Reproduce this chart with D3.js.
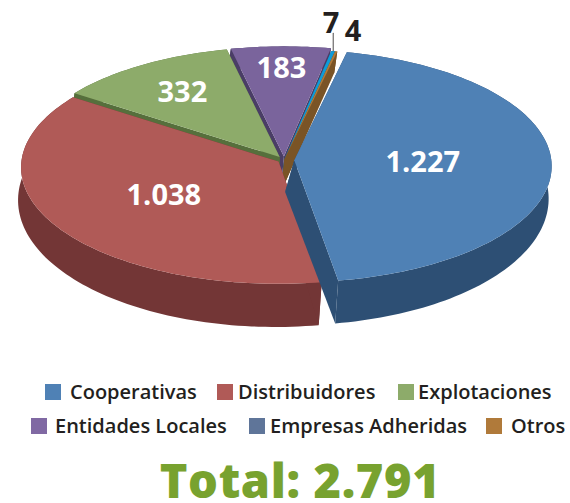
<!DOCTYPE html>
<html>
<head>
<meta charset="utf-8">
<script src="https://cdn.jsdelivr.net/npm/d3@7"></script>
<style>
html,body{margin:0;padding:0;background:#fff}
svg{display:block}
text{font-family:"Open Sans",sans-serif}
</style>
</head>
<body>
<svg width="570" height="503"></svg>
<script>
var categories = ["Cooperativas","Distribuidores","Explotaciones","Entidades Locales","Empresas Adheridas","Otros"];
var values = [1227,1038,332,183,7,4];
var valueLabels = ["1.227","1.038","332","183","7","4"];
var totalLabel = "Total: 2.791";

var topColors = ["#4f81b5","#b05a57","#8dab6a","#7a649c","#0f9bd7","#b07a3a"];
var wallColors = ["#2d4f74","#733636","#566f3c","#4a3d66","#0b6f9c","#7a5426"];
var legendColors = ["#4f81b5","#b05a57","#8dab6a","#8069a3","#5f7599","#b07a3a"];

var cx = 284, cy = 160, rx = 257, ry = 116, persp = 0.05;
var explode = [0.04,0.025,0.03,0.03,0.005,0.005];
var startAngle = 12.5 * Math.PI / 180;

var svg = d3.select("svg");

var pie = d3.pie().sort(null).startAngle(startAngle).endAngle(startAngle + 2 * Math.PI);
var arcs = pie(values);

// r = radius fraction, z = 0 top disc, 1 bottom disc
function project(t, r, z, e) {
  var mid = e.mid, off = e.off;
  var X = r * Math.sin(t) + off * Math.sin(mid);
  var Y = r * Math.cos(t) + off * Math.cos(mid);
  var s = 1 / (1 + persp * Y);
  return [cx + rx * X * s - z * 3, cy - ry * Y * s + z * (32 - 11 * Y)];
}

var line = d3.line().curve(d3.curveLinear);

function ringPoints(d, i, z) {
  var e = {mid: (d.startAngle + d.endAngle) / 2, off: explode[i]};
  var n = Math.max(2, Math.ceil((d.endAngle - d.startAngle) * 40));
  return d3.range(n + 1).map(function(k) {
    return project(d.startAngle + (d.endAngle - d.startAngle) * k / n, 1, z, e);
  });
}

var drawOrder = [3,4,5,2,1,0];
var g = svg.append("g");

drawOrder.forEach(function(i) {
  var d = arcs[i];
  var e = {mid: (d.startAngle + d.endAngle) / 2, off: explode[i]};
  var top = ringPoints(d, i, 0), bottom = ringPoints(d, i, 1);
  var a0 = project(0, 0, 0, e);
  // the lower apex keeps less of the explode offset
  var a1 = project(0, 0, 1, {mid: e.mid, off: e.off * 0.4});

  // outer wall
  g.append("path")
    .attr("d", line(top.concat(bottom.slice().reverse())) + "Z")
    .attr("fill", wallColors[i]);
  // the two cut faces
  [0, top.length - 1].forEach(function(k) {
    g.append("path")
      .attr("d", line([a0, top[k], bottom[k], a1]) + "Z")
      .attr("fill", wallColors[i]);
  });
  // top of the slice
  g.append("path")
    .attr("d", line([a0].concat(top)) + "Z")
    .attr("fill", topColors[i]);
});

// value labels
var labelRadius = [0.5,0.52,0.7,0.8];
labelRadius.forEach(function(r, i) {
  var d = arcs[i];
  var mid = (d.startAngle + d.endAngle) / 2;
  var p = project(mid, r, 0, {mid: mid, off: explode[i]});
  svg.append("text")
    .attr("x", p[0]).attr("y", p[1])
    .attr("dy", "0.36em")
    .attr("text-anchor", "middle")
    .attr("font-size", 29).attr("font-weight", 700)
    .attr("fill", "#fff")
    .text(valueLabels[i]);
});

svg.append("text").attr("x", 331).attr("y", 33).attr("text-anchor", "middle")
  .attr("font-size", 29).attr("font-weight", 700).attr("fill", "#231f20").text(valueLabels[4]);
svg.append("text").attr("x", 353).attr("y", 41).attr("text-anchor", "middle")
  .attr("font-size", 29).attr("font-weight", 700).attr("fill", "#231f20").text(valueLabels[5]);

var rim = project((arcs[4].startAngle + arcs[4].endAngle) / 2, 1, 0,
  {mid: (arcs[4].startAngle + arcs[4].endAngle) / 2, off: explode[4]});
svg.append("path")
  .attr("d", line([[333, 33], [rim[0], 33], [rim[0], rim[1]]]))
  .attr("fill", "none").attr("stroke", "#231f20").attr("stroke-width", 0.8);

// legend
var legendX = [45,217,398,31,249,486];
var legendTextX = [70,238,418,55,270,511];
var legendY = [392,392,392,426,426,426];
categories.forEach(function(c, i) {
  svg.append("rect")
    .attr("x", legendX[i]).attr("y", legendY[i] - 8)
    .attr("width", 16).attr("height", 16)
    .attr("fill", legendColors[i]);
  svg.append("text")
    .attr("x", legendTextX[i]).attr("y", legendY[i])
    .attr("dy", "0.36em")
    .attr("font-size", 20).attr("font-weight", 600)
    .attr("fill", "#231f20")
    .text(c);
});

svg.append("text")
  .attr("x", 300).attr("y", 498)
  .attr("text-anchor", "middle")
  .attr("font-size", 47).attr("font-weight", 800)
  .attr("letter-spacing", 0.6)
  .attr("fill", "#78a22f")
  .text(totalLabel);
</script>
</body>
</html>
